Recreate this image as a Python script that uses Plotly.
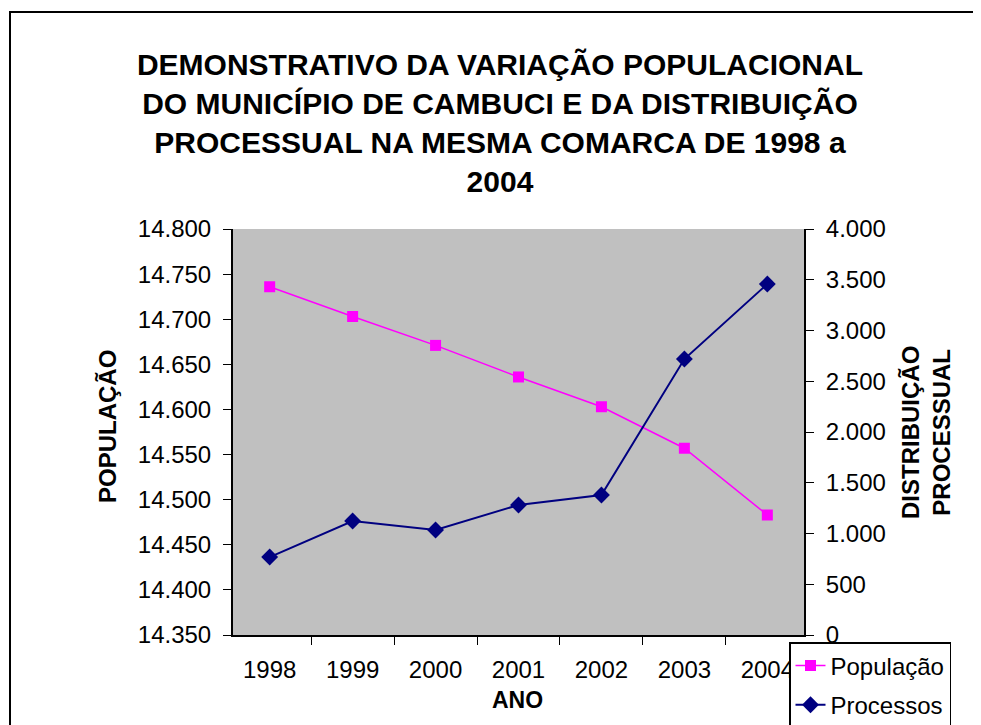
import plotly.graph_objects as go

anos = ["1998", "1999", "2000", "2001", "2002", "2003", "2004"]
populacao = [14736, 14703, 14671, 14636, 14603, 14557, 14483]
processos = [768, 1123, 1034, 1281, 1379, 2719, 3458]

titulo = ("DEMONSTRATIVO DA VARIAÇÃO POPULACIONAL<br>"
          "DO MUNICÍPIO DE CAMBUCI E DA DISTRIBUIÇÃO<br>"
          "PROCESSUAL NA MESMA COMARCA DE 1998 a<br>2004")

FONT = "Liberation Sans, Arial, sans-serif"

fig = go.Figure()
fig.add_trace(go.Scatter(
    x=anos, y=populacao, name="População", mode="lines+markers",
    line=dict(color="#FF00FF", width=1.5),
    marker=dict(symbol="square", size=11, color="#FF00FF"),
    legendgroup="a", yaxis="y"))
fig.add_trace(go.Scatter(
    x=anos, y=processos, name="Processos", mode="lines+markers",
    line=dict(color="#000080", width=2),
    marker=dict(symbol="diamond", size=13, color="#000080"),
    legendgroup="b", yaxis="y2"))

fig.update_layout(
    width=981, height=725,
    margin=dict(l=225, r=185, t=221, b=98, autoexpand=False),
    paper_bgcolor="white", plot_bgcolor="#C0C0C0",
    separators=",.",
    font=dict(family=FONT, color="black", size=24),
    title=dict(text=titulo, x=0.5015, xanchor="center", xref="container",
               y=1 - 67 / 725, yanchor="top", yref="container",
               font=dict(family=FONT, size=30, weight="bold", color="black")),
    xaxis=dict(type="category", tickson="boundaries", ticks="outside", ticklen=8,
               tickcolor="black", showline=True, linecolor="black", linewidth=2,
               showgrid=False, ticklabelstandoff=12,
               tickfont=dict(size=24)),
    yaxis=dict(range=[14350, 14800], dtick=50, tickformat=",d", ticks="outside",
               ticklen=8, tickcolor="black", showline=True, linecolor="black",
               linewidth=2, showgrid=False, zeroline=False, ticklabelstandoff=7,
               tickfont=dict(size=24)),
    yaxis2=dict(range=[0, 4000], dtick=500, tickformat=",d", overlaying="y",
                side="right", ticks="outside", ticklen=8, tickcolor="black",
                showline=True, linecolor="black", linewidth=2, showgrid=False,
                zeroline=False, ticklabelstandoff=7, tickfont=dict(size=24)),
    legend=dict(x=(789 - 233) / 571, y=(635 - 642) / 406, xanchor="left",
                yanchor="top", bgcolor="white", bordercolor="black", borderwidth=1.5,
                font=dict(size=24), tracegroupgap=5, traceorder="grouped",
                entrywidth=200),
    showlegend=True,
)

fig.add_annotation(text="<b>POPULAÇÃO</b>", textangle=-90, xref="paper", yref="paper",
                   x=(107 - 233) / 571, y=(635 - 427) / 406, showarrow=False,
                   xanchor="center", yanchor="middle", font=dict(size=24))
fig.add_annotation(text="<b>DISTRIBUIÇÃO<br>PROCESSUAL</b>", textangle=-90,
                   xref="paper", yref="paper", x=(926 - 233) / 571,
                   y=(635 - 433) / 406, showarrow=False, xanchor="center",
                   yanchor="middle", font=dict(size=24))
fig.add_annotation(text="<b>ANO</b>", xref="paper", yref="paper",
                   x=(517 - 233) / 571, y=(635 - 700) / 406, showarrow=False,
                   xanchor="center", yanchor="middle", font=dict(size=23))

fig.add_shape(type="rect", xref="paper", yref="paper",
              x0=(10 - 233) / 571, y0=-1, x1=3, y1=(635 - 12) / 406,
              line=dict(color="black", width=2), fillcolor="rgba(0,0,0,0)",
              layer="below")

fig.write_html("out.html")
